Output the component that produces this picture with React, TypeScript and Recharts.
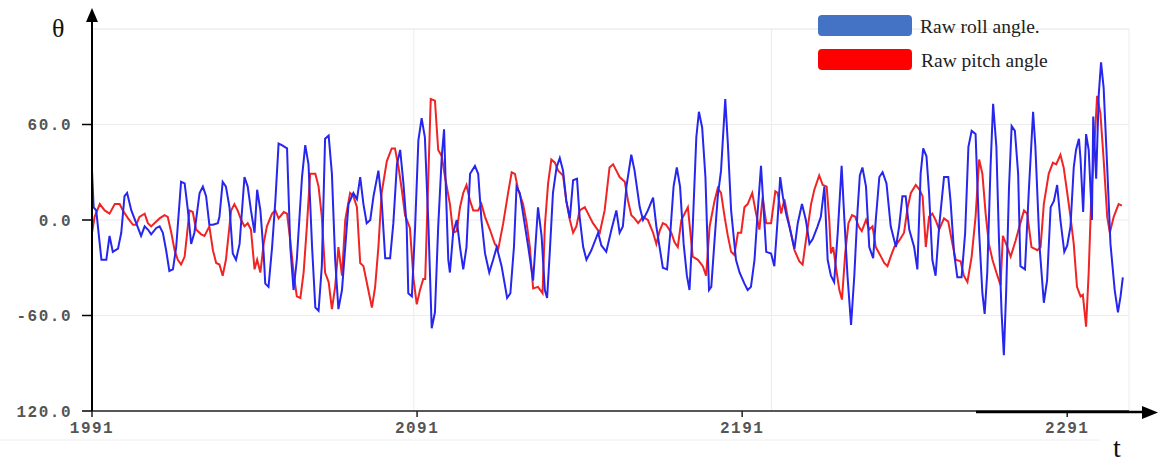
import { CartesianGrid, Line, LineChart, ReferenceLine, XAxis, YAxis } from 'recharts';

// values
const rollT = [
  1991, 1991.5, 1992.3, 1993.9, 1995.4, 1996.4, 1997.4, 1999, 2000, 2001, 2001.8, 2003.1, 2004.6, 2006.1,
  2007.2, 2008.2, 2009.2, 2010.8, 2011.8, 2012.8, 2013.8, 2014.8, 2015.9, 2016.9, 2018.4, 2019.5, 2020.5,
  2021.5, 2022.5, 2024.1, 2025.1, 2026.1, 2027.1, 2028.2, 2029.7, 2030.2, 2031.2, 2032.2, 2033.3, 2034.3,
  2035.3, 2036.4, 2037.9, 2038.9, 2039.9, 2041, 2041.8, 2042.8, 2043.8, 2044.3, 2045.3, 2046.4, 2047.4,
  2048.4, 2049.4, 2051, 2052, 2053, 2054, 2055.6, 2056.6, 2057.6, 2058.7, 2059.7, 2060.7, 2061.7, 2062.7,
  2063.8, 2064.8, 2065.8, 2066.8, 2067.9, 2068.9, 2069.9, 2071.4, 2072.5, 2073.5, 2074.5, 2075.5, 2076.6,
  2077.6, 2079.1, 2080.1, 2081.2, 2082.7, 2083.7, 2084.8, 2085.8, 2086.8, 2087.8, 2088.3, 2089.4, 2090.4,
  2091.4, 2092.4, 2093.4, 2094.5, 2095.5, 2096.5, 2097.5, 2098.6, 2099.3, 2099.9, 2100.6, 2101.1, 2102.1,
  2103.2, 2104.2, 2105.2, 2106.2, 2107.3, 2108.8, 2109.8, 2110.8, 2111.9, 2113.2, 2114.4, 2115.5, 2117,
  2118.7, 2119.7, 2120.8, 2121.6, 2122.6, 2123.6, 2125.2, 2126.7, 2128.2, 2129.3, 2130.3, 2131, 2131.8,
  2132.8, 2133.9, 2134.9, 2135.9, 2136.9, 2138, 2139, 2140.2, 2141, 2142.1, 2143.1, 2144.6, 2146.7, 2147.7,
  2149.2, 2150.8, 2152.3, 2153.3, 2154.3, 2155.4, 2156.9, 2157.9, 2159.5, 2160.5, 2162, 2163.6, 2164.6,
  2165.6, 2166.6, 2167.9, 2168.9, 2169.9, 2170.9, 2171.9, 2173, 2174, 2174.8, 2175.8, 2176.9, 2177.7,
  2178.7, 2179.7, 2180.8, 2181.5, 2182.5, 2183.5, 2184.5, 2185.8, 2186.6, 2187.6, 2189.1, 2190.2, 2191.7,
  2192.7, 2193.7, 2194.8, 2195.8, 2196.8, 2198.4, 2199.9, 2200.9, 2201.9, 2202.7, 2203.5, 2204.5, 2205.5,
  2207.1, 2208.1, 2209.4, 2210.6, 2211.7, 2212.7, 2214.2, 2215.2, 2216.3, 2217.3, 2218.3, 2219.3, 2220.4,
  2221.6, 2222.4, 2223.4, 2224.5, 2225.5, 2226.5, 2227.2, 2228, 2229.1, 2230.1, 2231.3, 2232.1, 2233.2,
  2234.2, 2235.4, 2236.7, 2238.3, 2239.3, 2240.3, 2241.3, 2242.4, 2243.9, 2244.9, 2245.9, 2246.7, 2247.7,
  2248.5, 2249.5, 2250.5, 2251.6, 2253.1, 2254.4, 2255.1, 2256.2, 2257.2, 2258.5, 2259.6, 2260.6, 2261.6,
  2262.8, 2263.9, 2264.9, 2265.6, 2266.4, 2267.4, 2268.2, 2269.2, 2270, 2270.8, 2271.5, 2272.2, 2273.1,
  2273.9, 2274.9, 2275.9, 2276.6, 2278, 2279.2, 2280.5, 2281.2, 2282.5, 2283.8, 2284.8, 2285.9, 2286.9,
  2287.9, 2288.9, 2290.1, 2291, 2292, 2293, 2293.7, 2294.6, 2295.1, 2295.9, 2296.8, 2297.6, 2298.6, 2299,
  2299.9, 2300.7, 2301.4, 2302.2, 2303.3, 2304.3, 2305.6, 2306.6, 2307.4, 2308.1,
];
const rollAngle = [
  31, 8, 6, -25, -25, -10, -20, -18, -8, 15, 17, 6, -2, -10,
  -4, -6, -9, -5, -4, -8, -19, -32, -31, -17, 24, 23, 6,
  -15, -8, 17, 21, 15, -3, -3, -2, 2, 24, 21, 8, -21,
  -25, -15, 27, 21, 6, -8, 19, 6, -21, -40, -42, -17, 12,
  48, 47, 45, -17, -44, -25, 27, 47, 35, -17, -55, -57, -29, 51,
  53, 29, -25, -56, -44, -17, 10, 17, 13, 27, 10, -2, 0,
  15, 31, 12, -24, -24, -2, 35, 44, 23, -4, -46, -48, -4,
  50, 64, 52, -4, -68, -58, -4, 40, 57, 17, -25, -33, -8,
  0, -17, -31, -17, 29, 34, 29, 0, -21, -33, -25, -17, -29,
  -49, -46, -17, 21, 17, 4, -17, -38, 8, -10, -44, -49, -21,
  17, 33, 39, 31, 12, 1, 25, 26, 2, -17, -25, -19, -8, -16,
  -20, -6, 6, -8, -4, 21, 41, 31, 8, 0, 6, 14, -4,
  -17, -30, -31, -8, 21, 33, 21, -15, -35, -44, -4, 52, 68,
  58, 27, -44, -42, -13, 15, 31, 76, 48, 6, -25, -33, -40,
  -44, -42, -25, 6, 34, -20, -21, -29, 0, 27, 15, 4, -4,
  -18, -2, 10, 0, -15, -12, -4, 2, 21, -25, -35, -39, -8,
  34, 2, -35, -66, -35, 6, 28, 33, 21, -17, -24, 0, 27,
  30, 23, -4, -17, -4, 15, 15, -6, -17, -31, 29, 45, 40,
  17, -25, -35, -4, 27, 27, 12, -21, -36, -36, -8, 46, 56,
  54, -8, -46, -59, -33, 33, 73, 46, -12, -58, -85, -46, 21,
  59, 56, 29, -29, -31, 19, 68, 46, -17, -52, -38, 8, 12,
  22, 0, -20, -16, -4, 33, 44, 51, 38, 5, 54, 44, 0, 65,
  26, 79, 99, 83, 33, -15, -44, -58, -48, -36,
];

const pitchT = [
  1991, 1991.8, 1993.4, 1994.9, 1996.4, 1998, 1999.5, 2000.5, 2002.1, 2003.6, 2004.6, 2005.6, 2007.2,
  2008.2, 2009.2, 2010.2, 2011.8, 2013.3, 2014.3, 2015.4, 2016.4, 2017.4, 2018.4, 2019.5, 2021, 2022, 2023,
  2024.6, 2025.6, 2027.1, 2028.2, 2029.2, 2030.2, 2031.2, 2032.2, 2033.8, 2034.8, 2035.8, 2036.9, 2037.9,
  2038.9, 2039.9, 2041, 2041.8, 2042.8, 2043.8, 2044.8, 2046.4, 2047.4, 2048.4, 2050, 2051, 2052, 2053,
  2054, 2055.1, 2056.1, 2057.1, 2058.1, 2059.7, 2060.7, 2061.7, 2062.7, 2063.8, 2064.8, 2065.8, 2066.8,
  2067.9, 2068.9, 2070.4, 2071.4, 2072.5, 2073.5, 2074.5, 2075.5, 2077.1, 2078.1, 2079.1, 2080.1, 2081.7,
  2083.2, 2084.2, 2085.3, 2086.3, 2087.3, 2088.8, 2089.9, 2090.9, 2091.9, 2092.9, 2093.5, 2095.2, 2096.5,
  2097.5, 2098.6, 2099.6, 2101.1, 2102.1, 2103.2, 2104.2, 2105.2, 2106.2, 2107.3, 2108.3, 2109.8, 2110.8,
  2111.9, 2113.4, 2114.9, 2116, 2117.5, 2119, 2120.1, 2121.1, 2122.1, 2123.6, 2124.7, 2125.7, 2126.7,
  2128.2, 2129.6, 2130.3, 2131.3, 2132.3, 2133.4, 2134.4, 2135.9, 2136.9, 2138, 2139, 2140, 2141, 2142.6,
  2143.6, 2145.1, 2147.2, 2148.7, 2150.2, 2151.3, 2152.3, 2153.3, 2154.9, 2155.9, 2156.9, 2157.9, 2159,
  2160.5, 2162, 2163.6, 2164.6, 2165.6, 2166.6, 2167.6, 2169.2, 2170.2, 2171.2, 2172.3, 2174.3, 2175.8,
  2177.4, 2178.9, 2179.9, 2181, 2182.5, 2183.5, 2184.5, 2185.6, 2186.6, 2187.6, 2188.6, 2189.7, 2190.7,
  2191.7, 2192.7, 2194.1, 2195.1, 2196.3, 2197.3, 2198.4, 2199.9, 2201.2, 2201.9, 2203, 2204, 2205, 2206,
  2207.1, 2208.6, 2209.6, 2210.6, 2212.2, 2213.2, 2214.7, 2215.8, 2217, 2217.8, 2218.3, 2219, 2219.8,
  2220.9, 2221.7, 2222.7, 2223.7, 2224.8, 2225.8, 2226.8, 2227.8, 2229.1, 2230.1, 2231.1, 2232.1, 2233.7,
  2234.7, 2235.7, 2236.7, 2237.8, 2239.3, 2240.8, 2241.9, 2242.9, 2244.4, 2245.6, 2246.5, 2247.5, 2248.5,
  2249.5, 2250.5, 2251.6, 2253.1, 2254.4, 2255.5, 2256.7, 2258.2, 2259.2, 2260.3, 2261.6, 2262.8, 2263.9,
  2264.9, 2265.9, 2266.9, 2268, 2269.2, 2270.5, 2271.2, 2272.2, 2273.6, 2275.1, 2276.3, 2277.7, 2278.7,
  2280, 2281.8, 2282.8, 2283.8, 2285.3, 2286.6, 2287.6, 2288.9, 2289.9, 2291, 2292, 2293, 2294, 2295.1,
  2295.8, 2296.8, 2297.6, 2298.4, 2299.2, 2300.2, 2301.2, 2302.2, 2303.3, 2304.1, 2305.3, 2306.8, 2307.8,
];
const pitchAngle = [
  -8, 2, 10, 6, 4, 10, 10, 6, 1, -3, -3, 2, 4,
  -2, -4, -2, 1, 3, 2, -8, -19, -25, -28, -23, 6, 5, -6,
  -9, -10, -4, -19, -27, -28, -35, -25, 6, 10, 6, 0, -4,
  -2, -6, -31, -25, -33, -15, -4, 4, 6, 1, 5, 4, -13, -33,
  -48, -49, -33, -4, 29, 29, 21, 2, -33, -39, -56, -42, -17,
  -35, 0, 17, 15, 8, -27, -29, -39, -55, -42, -17, 17, 37,
  45, 45, 33, 19, 3, -5, -37, -53, -44, -37, -37, 76, 75,
  44, 40, 27, 10, -8, -7, 8, 17, 22, 12, 6, 6, 10,
  2, -6, -15, -18, -2, 17, 30, 29, 19, 10, -2, -17, -43,
  -42, -46, -4, 23, 38, 36, 31, 28, 12, 0, -8, -4, 6, 8,
  4, -2, -8, 6, 33, 35, 31, 27, 24, 12, 3, 1, -2,
  2, 0, -8, -15, -7, -2, -3, -8, -14, -17, 0, 8, -23,
  -25, -29, -35, -4, 12, 20, 17, 2, -10, -20, -22, -8, -8,
  8, 10, 17, 6, -6, 14, -2, -2, 18, 17, 4, 13, 2, -8,
  -19, -26, -28, -13, 10, 19, 28, 22, 21, 0, -21, -17, -29,
  -44, -50, -21, -2, 3, 2, -4, -7, 0, -6, -4, -17, -23,
  -27, -29, -23, -17, -13, -8, 8, 17, 22, 19, 15, -17, 2,
  4, 0, -6, 1, -1, -13, -25, -26, -35, -39, -23, 2, 38,
  29, 4, -15, -25, -33, -41, -10, -15, -23, -13, -4, 6, 4,
  -17, -19, -17, 10, 29, 36, 35, 41, 33, 17, 2, -15, -42, -48,
  -47, -67, -33, 15, 42, 78, 67, 38, 2, -8, 2, 10, 9,
];

const xTicks = [1991, 2091, 2191, 2291];
const yTicks = [-120, -60, 0, 60];
const xGridLines = [2090, 2200, 2310];

const rollData = rollT.map((t, i) => ({ t, v: rollAngle[i] }));
const pitchData = pitchT.map((t, i) => ({ t, v: pitchAngle[i] }));

const tickFont = {
  fontFamily: '"Liberation Mono", "DejaVu Sans Mono", monospace',
  fontSize: 16,
  fontWeight: 700,
  fill: '#555',
  letterSpacing: 1.5,
};

// the picture shows the bottom label without its minus sign
const formatY = (v: number) => (v === -120 ? '120.0' : v.toFixed(1));

export default function App() {
  return (
    <div style={{ position: 'absolute', left: 0, top: 0, width: 1163, height: 463, background: '#fff' }}>
      <LineChart width={1163} height={463} margin={{ top: 29, right: 34, bottom: 22, left: 0 }}>
        <CartesianGrid vertical={false} stroke="#ececec" />
        {xGridLines.map((x) => (
          <ReferenceLine key={x} x={x} stroke="#ececec" />
        ))}
        <ReferenceLine y={120} stroke="#ececec" />
        <XAxis
          type="number"
          dataKey="t"
          domain={[1991, 2310]}
          ticks={xTicks}
          allowDataOverflow
          height={30}
          tickSize={6}
          tickMargin={5}
          tick={tickFont}
          axisLine={{ stroke: '#222', strokeWidth: 1.5 }}
          tickLine={{ stroke: '#222', strokeWidth: 1.5 }}
        />
        <YAxis
          type="number"
          domain={[-120, 120]}
          ticks={yTicks}
          width={92}
          tickSize={10}
          tickMargin={10}
          tick={tickFont}
          tickFormatter={formatY}
          axisLine={{ stroke: '#000', strokeWidth: 2 }}
          tickLine={{ stroke: '#000', strokeWidth: 1.5 }}
        />
        <Line
          data={pitchData}
          dataKey="v"
          type="linear"
          stroke="#f02424"
          strokeWidth={2}
          dot={false}
          isAnimationActive={false}
        />
        <Line
          data={rollData}
          dataKey="v"
          type="linear"
          stroke="#2626ee"
          strokeWidth={2}
          dot={false}
          isAnimationActive={false}
        />
      </LineChart>
      <svg
        width={1163}
        height={463}
        style={{ position: 'absolute', left: 0, top: 0, pointerEvents: 'none' }}
      >
        <line x1={0} y1={440} x2={1100} y2={440} stroke="#eee" />
        <line x1={92} y1={30} x2={92} y2={20} stroke="#000" strokeWidth={2} />
        <polygon points="86,22 98,22 92,8" fill="#000" />
        <line x1={976} y1={412} x2={1145} y2={412} stroke="#000" strokeWidth={2.5} />
        <polygon points="1142,406 1142,419 1158,412.5" fill="#000" />
        <text x={52} y={37} fontFamily='"Liberation Serif", serif' fontSize={26} fill="#111">
          θ
        </text>
        <text x={1113} y={457} fontFamily='"Liberation Serif", serif' fontSize={28} fill="#111">
          t
        </text>
        <rect x={818} y={15} width={94} height={21} rx={4} fill="#4472c4" />
        <text x={920} y={33} fontFamily='"Liberation Serif", serif' fontSize={19.5} fill="#222">
          Raw roll angle.
        </text>
        <rect x={818} y={49} width={94} height={21} rx={4} fill="#ff0000" />
        <text x={921} y={67} fontFamily='"Liberation Serif", serif' fontSize={19.5} fill="#222">
          Raw pitch angle
        </text>
      </svg>
    </div>
  );
}
